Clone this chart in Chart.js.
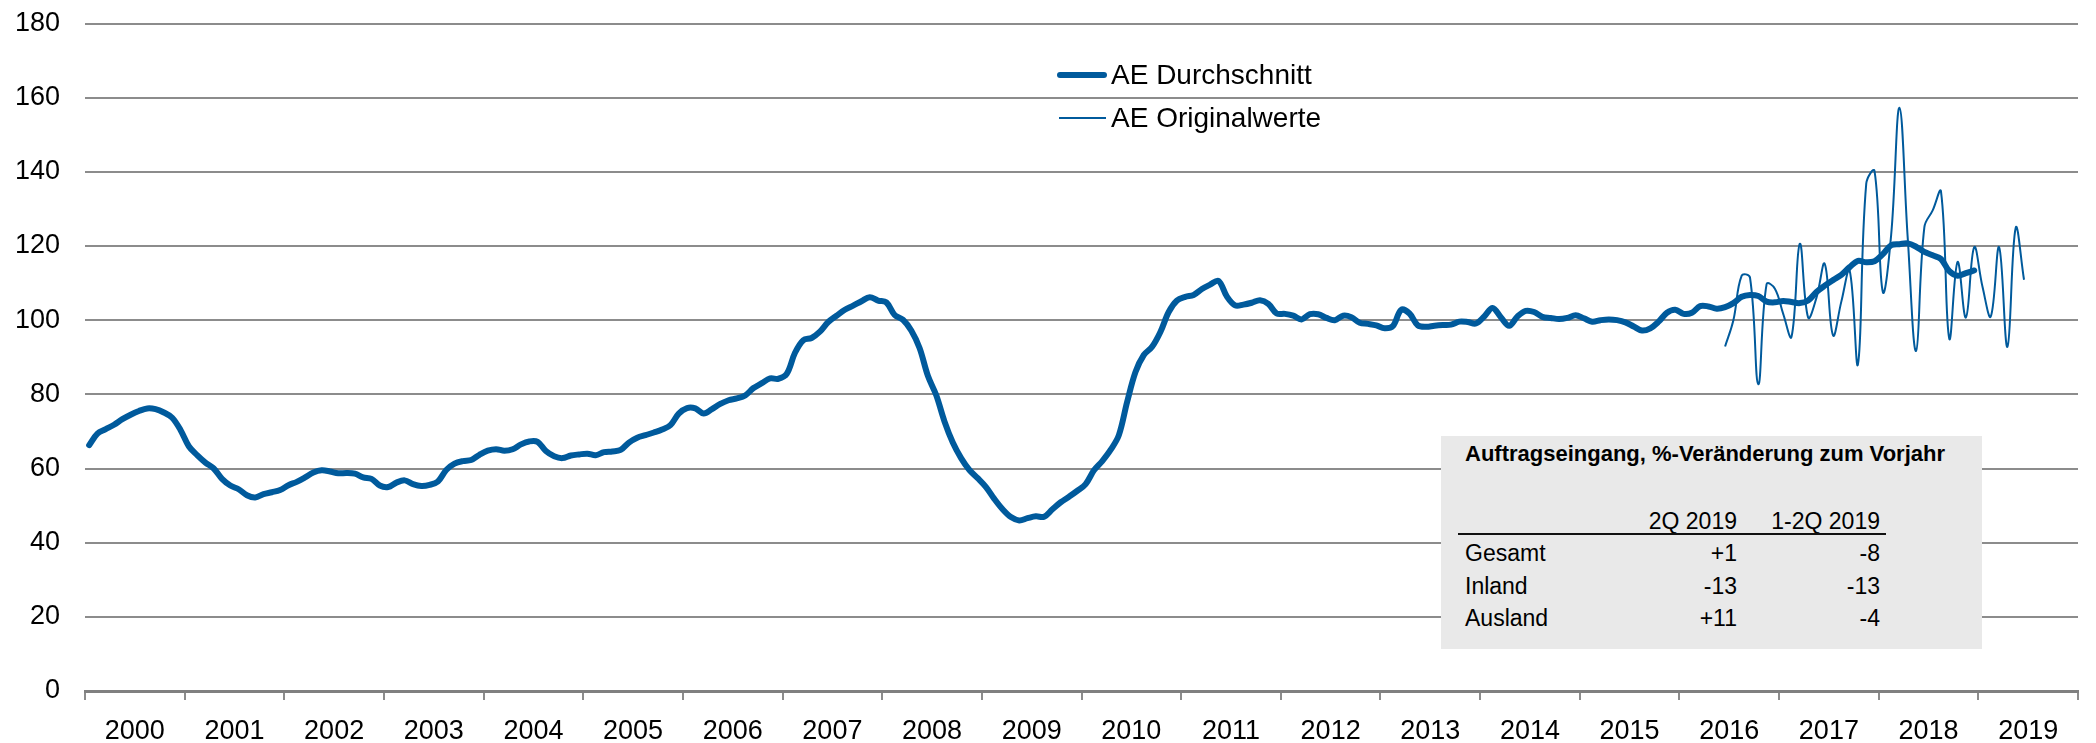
<!DOCTYPE html>
<html lang="de">
<head>
<meta charset="utf-8">
<title>Auftragseingang</title>
<script src="https://cdn.jsdelivr.net/npm/chart.js@4.4.1/dist/chart.umd.min.js"></script>
<style>
  html, body { margin: 0; padding: 0; background: #fff; }
  #wrap { position: relative; width: 2096px; height: 743px; font-family: "Liberation Sans", Arial, sans-serif; color: #000; }
  #usageChart { position: absolute; left: 0; top: 0; }
  .legend { position: absolute; left: 1057px; top: 53px; font-size: 28px; }
  .legend .row { display: flex; align-items: center; height: 43px; }
  .swatch { display: inline-block; background: #005a9c; margin-right: 4px; }
  .swatch.thick { width: 50px; height: 6px; border-radius: 3px; }
  .swatch.thin { width: 47px; height: 2px; margin-left: 2px; margin-right: 5px; }
  .box { position: absolute; left: 1441px; top: 436px; width: 541px; height: 213px; background: #e9e9e9; font-size: 23px; }
  .box span { position: absolute; line-height: 26px; white-space: nowrap; }
  .box .title { left: 24px; top: 5px; font-weight: bold; font-size: 22px; }
  .box .rule { position: absolute; left: 17px; top: 97px; width: 428px; height: 2px; background: #111; }
  .box .c1 { right: 245px; text-align: right; }
  .box .c2 { right: 102px; text-align: right; }
  .box .lab { left: 24px; }
</style>
</head>
<body>
<div id="wrap">
  <canvas id="usageChart" width="2096" height="743"></canvas>
  <div class="legend" id="legend"></div>
  <div class="box" id="box"></div>
</div>
<script>
// --- data ---
const START_YEAR = 2000;
const YEARS = 20;                 // 2000 .. 2019 on the axis
const SERIES_NAMES = ['AE Durchschnitt', 'AE Originalwerte'];

// AE Durchschnitt, monthly Jan 2000 - Dec 2018
const avgValues = [
  66.3, 69.4, 70.6, 71.8, 73.3, 74.5, 75.5, 76.2, 76.0, 75.1, 73.7, 70.4,   // 2000
  66.0, 63.6, 61.6, 60.0, 57.2, 55.4, 54.4, 52.8, 52.2, 53.1, 53.6, 54.2,   // 2001
  55.5, 56.4, 57.6, 58.9, 59.5, 59.2, 58.7, 58.8, 58.6, 57.6, 57.2, 55.4,   // 2002
  55.0, 56.2, 56.8, 55.8, 55.3, 55.6, 56.5, 59.6, 61.3, 62.0, 62.3, 63.7,   // 2003
  64.8, 65.2, 64.8, 65.2, 66.5, 67.3, 67.2, 64.7, 63.3, 62.8, 63.5, 63.8,   // 2004
  64.0, 63.6, 64.4, 64.6, 65.0, 67.0, 68.3, 69.0, 69.7, 70.5, 71.7, 74.8,   // 2005
  76.3, 76.2, 74.8, 76.0, 77.4, 78.4, 78.9, 79.7, 81.7, 83.0, 84.3, 84.2,   // 2006
  85.5, 91.2, 94.6, 95.2, 96.9, 99.5, 101.2, 102.8, 103.9, 105.1, 106.2, 105.3, // 2007
  104.8, 101.4, 100.1, 97.2, 92.5, 85.0, 79.8, 72.7, 67.0, 62.8, 59.6, 57.4, // 2008
  55.0, 51.8, 49.0, 46.9, 46.0, 46.6, 47.1, 47.0, 49.0, 50.9, 52.4, 54.0,   // 2009
  55.8, 59.5, 62.0, 65.0, 69.0, 78.0, 86.0, 90.6, 92.8, 96.8, 102.2, 105.3, // 2010
  106.3, 106.8, 108.4, 109.6, 110.6, 106.4, 104.0, 104.2, 104.7, 105.4, 104.4, 101.8, // 2011
  101.7, 101.2, 100.2, 101.6, 101.6, 100.6, 100.0, 101.2, 100.8, 99.3, 99.0, 98.6,    // 2012
  97.8, 98.4, 102.8, 101.8, 98.6, 98.2, 98.5, 98.7, 98.8, 99.6, 99.5, 99.1,           // 2013
  101.0, 103.3, 100.8, 98.5, 101.0, 102.5, 102.2, 100.9, 100.6, 100.3, 100.6, 101.3,  // 2014
  100.5, 99.6, 100.0, 100.2, 100.0, 99.4, 98.3, 97.2, 97.8, 99.6, 102.0, 102.8,       // 2015
  101.7, 102.0, 103.8, 103.7, 103.1, 103.5, 104.6, 106.3, 106.8, 106.5, 105.0, 104.8, // 2016
  105.2, 104.9, 104.6, 105.3, 107.6, 109.3, 110.8, 112.2, 114.3, 116.0, 115.6, 115.9, // 2017
  117.8, 120.2, 120.5, 120.7, 119.8, 118.4, 117.5, 116.5, 113.2, 112.0, 112.7, 113.4  // 2018
];

// AE Originalwerte, monthly Jun 2016 - Jun 2019
const ORIG_START_MONTH = 197;     // months after Jan 2000
const origValues = [
  92.9, 100.0, 112.0, 111.5, 82.7, 109.7, 108.5,                           // 2016
  101.7, 95.5, 120.6, 100.7, 106.0, 115.2, 95.9, 105.0, 113.4, 88.1, 136.8, 140.2, // 2017
  107.6, 123.0, 157.3, 122.0, 91.7, 125.1, 129.6, 134.7, 95.0, 115.7, 100.7, 119.7, // 2018
  109.0, 101.0, 119.7, 92.8, 124.9, 110.9                                   // 2019
];

// side table
const tableTitle = 'Auftragseingang, %-Veränderung zum Vorjahr';
const tableHeads = ['2Q 2019', '1-2Q 2019'];
const tableRows = ['Gesamt', 'Inland', 'Ausland'];
const tableQ2 = ['+1', '-13', '+11'];
const tableH1 = ['-8', '-13', '-4'];

const LINE_COLOR = '#005a9c';
const GRID_COLOR = '#8c8c8c';

// --- legend + table (html text) ---
function buildOverlay() {
    const legend = document.getElementById('legend');
    legend.innerHTML =
        `<div class="row"><span class="swatch thick"></span>${SERIES_NAMES[0]}</div>` +
        `<div class="row"><span class="swatch thin"></span>${SERIES_NAMES[1]}</div>`;

    const box = document.getElementById('box');
    let html = `<span class="title">${tableTitle}</span>`;
    html += `<span class="c1" style="top:72px">${tableHeads[0]}</span>`;
    html += `<span class="c2" style="top:72px">${tableHeads[1]}</span>`;
    html += `<div class="rule"></div>`;
    const rowTops = [104, 137, 169];
    tableRows.forEach((name, i) => {
        html += `<span class="lab" style="top:${rowTops[i]}px">${name}</span>`;
        html += `<span class="c1" style="top:${rowTops[i]}px">${tableQ2[i]}</span>`;
        html += `<span class="c2" style="top:${rowTops[i]}px">${tableH1[i]}</span>`;
    });
    box.innerHTML = html;
}

// --- chart ---
function drawChart() {
    const avgData = avgValues.map((v, i) => ({ x: i + 0.5, y: v }));
    const origData = origValues.map((v, i) => ({ x: ORIG_START_MONTH + i + 0.5, y: v }));
    const font = { family: '"Liberation Sans", Arial, sans-serif', size: 27 };

    new Chart(document.getElementById('usageChart'), {
        type: 'line',
        data: {
            datasets: [
                {
                    label: SERIES_NAMES[0],
                    data: avgData,
                    borderColor: LINE_COLOR,
                    borderWidth: 6,
                    borderCapStyle: 'round',
                    borderJoinStyle: 'round',
                    pointRadius: 0,
                    tension: 0.35
                },
                {
                    label: SERIES_NAMES[1],
                    data: origData,
                    borderColor: LINE_COLOR,
                    borderWidth: 2,
                    pointRadius: 0,
                    tension: 0.4
                }
            ]
        },
        options: {
            responsive: false,
            animation: false,
            devicePixelRatio: 1,
            layout: { padding: { top: 23.5, right: 9, left: 0, bottom: 0 } },
            plugins: { legend: { display: false }, tooltip: { enabled: false } },
            scales: {
                x: {
                    type: 'linear',
                    min: 0,
                    max: YEARS * 12,
                    afterBuildTicks: axis => {
                        const t = [];
                        for (let m = 0; m <= YEARS * 12; m += 6) t.push({ value: m });
                        axis.ticks = t;
                    },
                    afterFit: axis => { axis.height = 52; },
                    ticks: {
                        autoSkip: false,
                        maxRotation: 0,
                        padding: 18,
                        color: '#000',
                        font: { ...font, lineHeight: 1 },
                        callback: v => (v % 12 === 6 ? String(START_YEAR + (v - 6) / 12) : '')
                    },
                    grid: {
                        drawOnChartArea: false,
                        tickLength: 9,
                        lineWidth: 2,
                        color: ctx => (ctx.tick && ctx.tick.value % 12 === 0 ? GRID_COLOR : 'rgba(0,0,0,0)')
                    },
                    border: { display: true, color: '#808080', width: 3 }
                },
                y: {
                    min: 0,
                    max: 180,
                    afterFit: axis => {
                        axis.width = 85;
                        axis.paddingTop = 0;     // label padding would push the plot down
                        axis.paddingBottom = 0;
                    },
                    ticks: { stepSize: 20, padding: 25, color: '#000', font },
                    grid: { color: GRID_COLOR, lineWidth: 2, drawTicks: false },
                    border: { display: false }
                }
            }
        }
    });
}

buildOverlay();
drawChart();
</script>
</body>
</html>
